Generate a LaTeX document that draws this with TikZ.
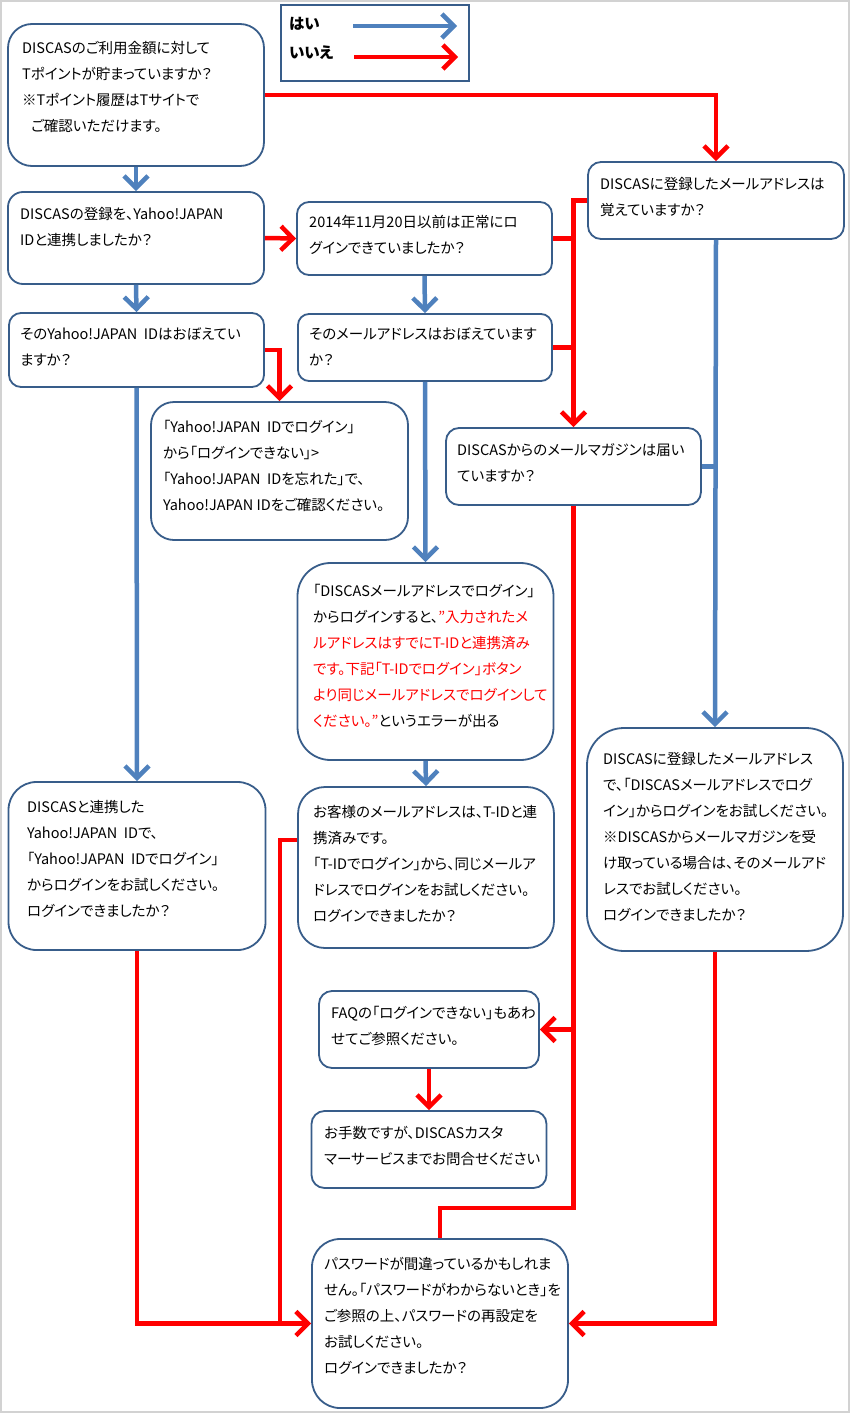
\documentclass[tikz,border=0pt]{standalone}
\usepackage{fontspec}
\setmainfont{Noto Sans CJK JP}[RawFeature=+palt]
\usetikzlibrary{arrows.meta}
\definecolor{boxedge}{RGB}{56,93,138}
\definecolor{yesblue}{RGB}{79,129,189}
\definecolor{nored}{RGB}{255,0,0}

\begin{document}
\begin{tikzpicture}[x=1pt, y=-1pt]
                \tikzset{BoxStyle/.style= {draw=boxedge, line width=1.8pt, fill=white, inner sep=0pt, rounded corners=#1},
                         BoxStyle/.default=13pt,
                         LegendStyle/.style= {draw=boxedge, line width=1.8pt, inner sep=0pt},
                         TextStyle/.style= {anchor=north west, inner sep=0pt, align=left, font=\fontsize{14.5}{26}\selectfont},
                         LegendText/.style= {anchor=west, inner sep=0pt, font=\fontsize{15.5}{18}\selectfont\bfseries},
                         YesEdge/.style= {draw=yesblue, line width=4.5pt},
                         NoEdge/.style= {draw=nored, line width=4.5pt},
                         ArrowTip/.style= {-{Straight Barb[length=12pt, width=24pt]}}}
                \useasboundingbox (0,0) rectangle (850,1413);
                \draw[gray!35, line width=2pt] (1,1) rectangle (849,1412);

                \node[LegendStyle, minimum width=188pt, minimum height=76pt] (Legend) at (375,43) {};
                \node[BoxStyle=24pt, minimum width=256pt, minimum height=142pt] (Start) at (136,95) {};
                \node[BoxStyle=15pt, minimum width=256pt, minimum height=92pt] (Link) at (136,238) {};
                \node[BoxStyle=12pt, minimum width=255pt, minimum height=73pt] (Date) at (424.5,238.5) {};
                \node[BoxStyle=13pt, minimum width=256pt, minimum height=77pt] (MailQ) at (716,200.5) {};
                \node[BoxStyle=12pt, minimum width=255pt, minimum height=74pt] (YahooQ) at (136.5,350) {};
                \node[BoxStyle=11pt, minimum width=254pt, minimum height=67pt] (AddrQ) at (425,347.5) {};
                \node[BoxStyle=23pt, minimum width=257pt, minimum height=138pt] (YahooForgot) at (279.5,471) {};
                \node[BoxStyle=13pt, minimum width=255pt, minimum height=77pt] (MagQ) at (573.5,466.5) {};
                \node[BoxStyle=33pt, minimum width=256pt, minimum height=197pt] (Error) at (425.5,661.5) {};
                \node[BoxStyle=28pt, minimum width=257pt, minimum height=168pt] (YahooTry) at (137,866) {};
                \node[BoxStyle=27pt, minimum width=256pt, minimum height=161pt] (TID) at (426,867.5) {};
                \node[BoxStyle=37pt, minimum width=256pt, minimum height=223pt] (MailTry) at (715,839.5) {};
                \node[BoxStyle=13pt, minimum width=220pt, minimum height=77pt] (FAQ) at (429,1029.5) {};
                \node[BoxStyle=13pt, minimum width=235pt, minimum height=77pt] (Contact) at (429,1149.5) {};
                \node[BoxStyle=28pt, minimum width=256pt, minimum height=169pt] (Password) at (440,1323.5) {};

                \node[LegendText] (YesLabel) at (289,24) {はい};
                \node[LegendText] (NoLabel) at (289,53) {いいえ};
                \node[TextStyle] (StartText) at (22,41) {DISCASのご利用金額に対して\\Tポイントが貯まっていますか？\\※Tポイント履歴はTサイトで\\\hspace*{9pt}ご確認いただけます。};
                \node[TextStyle] (LinkText) at (20,207) {DISCASの登録を、Yahoo!JAPAN\\IDと連携しましたか？};
                \node[TextStyle] (DateText) at (309,215) {2014年11月20日以前は正常にロ\\グインできていましたか？};
                \node[TextStyle] (MailQText) at (600,177) {DISCASに登録したメールアドレスは\\覚えていますか？};
                \node[TextStyle] (YahooQText) at (20,327) {そのYahoo!JAPAN\ \ IDはおぼえてい\\ますか？};
                \node[TextStyle] (AddrQText) at (309,327) {そのメールアドレスはおぼえています\\か？};
                \node[TextStyle] (YahooForgotText) at (163,420) {「Yahoo!JAPAN\ \ IDでログイン」\\から「ログインできない」>\\「Yahoo!JAPAN\ \ IDを忘れた」で、\\Yahoo!JAPAN\ IDをご確認ください。};
                \node[TextStyle] (MagQText) at (457,443) {DISCASからのメールマガジンは届い\\ていますか？};
                \node[TextStyle] (ErrorText) at (313,584) {「DISCASメールアドレスでログイン」\\からログインすると、{\color{nored}”入力されたメ}\\{\color{nored}ルアドレスはすでにT-IDと連携済み}\\{\color{nored}です。下記「T-IDでログイン」ボタン}\\{\color{nored}より同じメールアドレスでログインして}\\{\color{nored}ください。”}というエラーが出る};
                \node[TextStyle] (YahooTryText) at (27,800) {DISCASと連携した\\Yahoo!JAPAN\ \ IDで、\\「Yahoo!JAPAN\ \ IDでログイン」\\からログインをお試しください。\\ログインできましたか？};
                \node[TextStyle] (TIDText) at (313,805) {お客様のメールアドレスは、T-IDと連\\携済みです。\\「T-IDでログイン」から、同じメールア\\ドレスでログインをお試しください。\\ログインできましたか？};
                \node[TextStyle] (MailTryText) at (603,752) {DISCASに登録したメールアドレス\\で、「DISCASメールアドレスでログ\\イン」からログインをお試しください。\\※DISCASからメールマガジンを受\\け取っている場合は、そのメールアド\\レスでお試しください。\\ログインできましたか？};
                \node[TextStyle] (FAQText) at (331,1006) {FAQの「ログインできない」もあわ\\せてご参照ください。};
                \node[TextStyle] (ContactText) at (324,1126) {お手数ですが、DISCASカスタ\\マーサービスまでお問合せください};
                \node[TextStyle] (PasswordText) at (324,1257) {パスワードが間違っているかもしれま\\せん。「パスワードがわからないとき」を\\ご参照の上、パスワードの再設定を\\お試しください。\\ログインできましたか？};

                \coordinate (YesFrom) at (353,26);
                \coordinate (YesTo) at (457,26);
                \coordinate (NoFrom) at (354,57);
                \coordinate (NoTo) at (458,57);
                \coordinate (PwTurn) at (MagQ.south |- 0,1208);
                \coordinate (TidJoin) at (280,1323.5);

                \draw[YesEdge, ArrowTip] (YesFrom) -- (YesTo);
                \draw[NoEdge, ArrowTip] (NoFrom) -- (NoTo);
                \draw[YesEdge, ArrowTip] (Start.south) -- (Link.north);
                \draw[NoEdge, ArrowTip] (Start.east) -| (MailQ.north);
                \draw[YesEdge, ArrowTip] (Link.south) -- (YahooQ.north);
                \draw[NoEdge, ArrowTip] (Link.east) -- (Date.west);
                \draw[YesEdge, ArrowTip] (Date.south) -- (AddrQ.north);
                \draw[NoEdge, ArrowTip] (MailQ.west) -| (MagQ.north);
                \draw[NoEdge] (Date.east) -- (Date.east -| MagQ.north);
                \draw[NoEdge] (AddrQ.east) -- (AddrQ.east -| MagQ.north);
                \draw[NoEdge, ArrowTip] (YahooQ.east) -| (YahooForgot.north);
                \draw[YesEdge, ArrowTip] (YahooQ.south) -- (YahooTry.north);
                \draw[YesEdge, ArrowTip] (AddrQ.south) -- (Error.north);
                \draw[YesEdge, ArrowTip] (MailQ.south) -- (MailTry.north);
                \draw[YesEdge] (MagQ.east) -- (MagQ.east -| MailQ.south);
                \draw[YesEdge, ArrowTip] (Error.south) -- (TID.north);
                \draw[NoEdge, ArrowTip] (MagQ.south) |- (FAQ.east);
                \draw[NoEdge] (Password.north) |- (PwTurn) -- (PwTurn |- FAQ.east);
                \draw[NoEdge, ArrowTip] (FAQ.south) -- (Contact.north);
                \draw[NoEdge, ArrowTip] (YahooTry.south) |- (Password.west);
                \draw[NoEdge] ([yshift=27.5pt]TID.west) -| (TidJoin);
                \draw[NoEdge, ArrowTip] (MailTry.south) |- (Password.east);

            \end{tikzpicture}
\end{document}
